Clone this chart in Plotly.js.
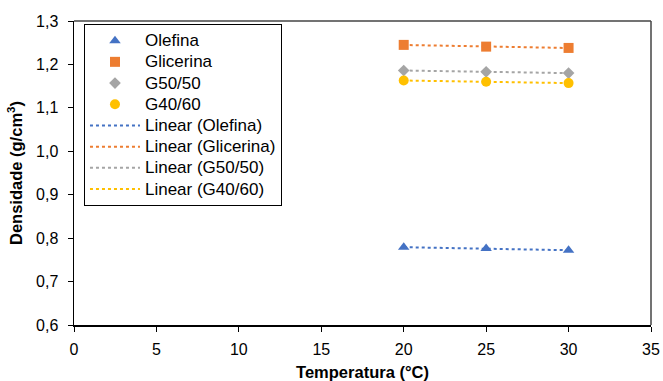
<!DOCTYPE html>
<html><head><meta charset="utf-8">
<script src="https://cdn.plot.ly/plotly-3.0.1.min.js"></script>
<style>body{margin:0;background:#fff}#c{width:663px;height:381px}</style>
</head><body><div id="c"></div>
<script>
const temps = [20, 25, 30];
const olefina = [0.779, 0.776, 0.772];
const glicerina = [1.245, 1.241, 1.238];
const g5050 = [1.186, 1.183, 1.180];
const g4060 = [1.163, 1.160, 1.157];
const names = ['Olefina', 'Glicerina', 'G50/50', 'G40/60'];
const colors = ['#4472C4', '#ED7D31', '#A5A5A5', '#FFC000'];
const symbols = ['triangle-up', 'square', 'diamond', 'circle'];
const series = [olefina, glicerina, g5050, g4060];

function fit(x, y) {
  const n = x.length;
  const mx = x.reduce((a, b) => a + b, 0) / n;
  const my = y.reduce((a, b) => a + b, 0) / n;
  let sxy = 0, sxx = 0;
  for (let i = 0; i < n; i++) { sxy += (x[i] - mx) * (y[i] - my); sxx += (x[i] - mx) ** 2; }
  const b = sxy / sxx, a = my - b * mx;
  return x.map(v => a + b * v);
}
const big = t => '<span style="font-size:17px">' + t + '</span>';

const traces = [];
series.forEach((s, i) => {
  traces.push({x: temps, y: s, mode: 'markers', type: 'scatter', name: big(names[i]),
    marker: {color: colors[i], symbol: symbols[i], size: i === 2 ? 9 : 10}, cliponaxis: false});
});
series.forEach((s, i) => {
  traces.push({x: temps, y: fit(temps, s), mode: 'lines', type: 'scatter', name: big('Linear (' + names[i] + ')'),
    line: {color: colors[i], dash: 'dot', width: 2}});
});

const FONT = "'Liberation Sans', Arial, sans-serif";
const layout = {
  width: 663, height: 381,
  margin: {l: 74, r: 12, t: 21, b: 56},
  paper_bgcolor: '#fff', plot_bgcolor: '#fff',
  font: {family: FONT, size: 16, color: '#000'},
  showlegend: true,
  legend: {x: 0.0173, y: 0.99, xanchor: 'left', yanchor: 'top', bordercolor: '#000', borderwidth: 1,
    bgcolor: '#fff', font: {size: 14, family: FONT}, itemwidth: 50, tracegroupgap: 0},
  xaxis: {range: [0, 35], dtick: 5, tick0: 0, showgrid: false, zeroline: false,
    showline: true, linecolor: '#000', linewidth: 1.5, mirror: false,
    ticks: 'outside', ticklen: 5, tickcolor: '#000', tickfont: {size: 16}, ticklabelstandoff: 4,
    title: {text: '<b>Temperatura (°C)</b>', font: {size: 16.5}, standoff: 9}},
  yaxis: {range: [0.6, 1.3], dtick: 0.1, tick0: 0.6, showgrid: false, zeroline: false,
    showline: true, linecolor: '#000', linewidth: 1.5,
    ticks: 'outside', ticklen: 5, tickcolor: '#000', tickformat: '.1f', tickfont: {size: 16}, ticklabelstandoff: 6,
    title: {text: '<b>Densidade (g/cm<sup>3</sup>)</b>', font: {size: 16.5}, standoff: 9}},
  separators: ',.',
  shapes: [
    {type: 'line', xref: 'paper', yref: 'paper', x0: 0, x1: 1, y0: 1, y1: 1, line: {color: '#444', width: 1.5}},
    {type: 'line', xref: 'paper', yref: 'paper', x0: 1, x1: 1, y0: 0, y1: 1, line: {color: '#444', width: 1.5}}
  ]
};
Plotly.newPlot('c', traces, layout, {displayModeBar: false, staticPlot: true});
</script></body></html>
